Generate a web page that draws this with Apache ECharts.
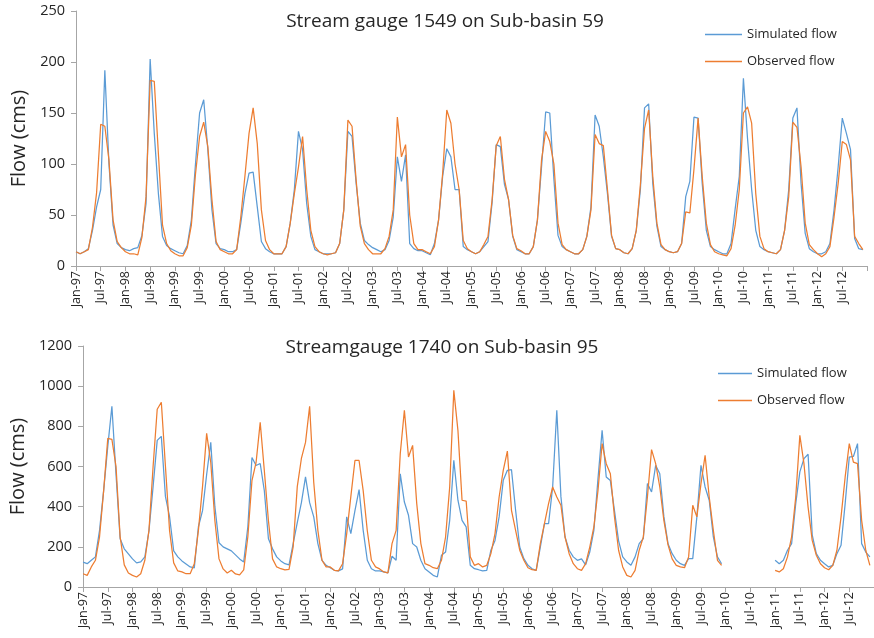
<!DOCTYPE html>
<html>
<head>
<meta charset="utf-8">
<script src="https://cdn.jsdelivr.net/npm/echarts@6/dist/echarts.min.js"></script>
<style>
  html, body { margin: 0; padding: 0; background: #ffffff; }
  #chart { width: 874px; height: 638px; }
</style>
</head>
<body>
<div id="chart"></div>
<script>
// ---------- categories ----------
const monthNames = ['Jan','Feb','Mar','Apr','May','Jun','Jul','Aug','Sep','Oct','Nov','Dec'];
const yearLabels = ['97','98','99','00','01','02','03','04','05','06','07','08','09','10','11','12','13'];
const categories = [];
yearLabels.forEach(y => monthNames.forEach(m => categories.push(m + '-' + y)));
categories.length = 193; // Jan-97 ... Jan-13 (axis end)

// ---------- series: Stream gauge 1549 (monthly, Jan-97 .. Dec-12) ----------
const sim1549 = [
  14,12,14,17,35,58,75,192,100,40,22,18,
  16,15,17,18,30,61,203,130,71,29,20,17,
  15,13,12,20,45,100,150,163,114,55,22,17,
  16,14,14,16,42,71,91,92,58,24,17,14,
  12,12,12,19,42,75,132,114,61,29,16,14,
  12,12,12,13,22,55,132,127,81,42,25,21,
  18,16,14,16,25,48,107,83,109,22,17,15,
  15,13,11,22,45,88,115,107,75,75,19,16,
  14,12,14,19,24,62,119,117,80,65,29,16,
  14,12,12,19,45,97,151,150,85,30,19,16,
  14,12,12,16,29,58,148,137,107,71,29,17,
  16,13,12,17,35,75,155,159,81,39,19,16,
  14,13,14,22,68,83,146,145,81,35,19,16,
  14,12,12,22,56,88,184,125,75,35,19,16,
  14,13,12,16,35,75,145,155,81,32,17,14,
  12,12,14,22,55,97,145,130,114,27,17,16
];
const obs1549 = [
  14,12,14,16,38,72,139,137,104,45,24,18,
  14,12,12,11,28,68,182,181,110,40,22,15,
  12,10,10,18,40,90,127,141,117,65,24,16,
  14,12,12,16,48,88,130,155,120,55,25,16,
  12,12,12,19,42,71,97,127,75,35,19,14,
  12,11,12,13,22,55,143,137,84,39,22,16,
  12,12,12,17,29,55,146,107,119,50,22,16,
  16,14,12,19,45,91,153,140,100,75,25,17,
  14,12,14,21,29,65,118,127,85,65,30,17,
  15,12,12,19,45,104,132,122,100,42,21,16,
  14,12,12,16,29,55,129,120,118,75,30,17,
  16,13,12,17,35,80,135,153,88,42,21,16,
  14,13,14,22,53,52,95,145,88,42,21,14,
  12,11,10,17,40,75,150,156,140,71,29,17,
  14,13,12,16,35,68,141,136,97,42,21,16,
  12,9,12,19,48,81,122,119,104,29,22,16
];

// ---------- series: Streamgauge 1740 (monthly, Jan-97 .. Dec-12, gap in 2010) ----------
const gap2010 = [null,null,null,null,null,null,null,null,null,null,null,null];
const sim1740 = [
  124,116,133,150,282,481,700,900,560,240,190,165,
  140,120,125,150,280,500,730,750,450,350,180,150,
  130,115,100,95,300,380,560,720,400,220,200,190,
  180,160,140,125,300,645,605,615,480,240,190,150,
  130,116,110,216,320,420,548,420,349,216,133,108,
  96,83,80,90,349,266,380,485,282,133,91,80,
  80,75,70,153,133,564,423,357,216,199,133,91,
  75,58,50,158,174,332,631,432,332,299,108,91,
  86,80,83,183,232,349,531,581,584,382,199,141,
  108,91,83,199,315,315,500,880,450,249,183,150,
  133,140,110,174,282,540,780,548,530,380,230,150,
  125,108,150,216,241,515,473,606,564,349,216,166,
  133,116,108,141,141,349,606,498,432,249,150,116,
  ...gap2010,
  133,116,133,183,216,415,573,639,661,260,166,133,
  116,100,108,166,208,415,647,650,714,216,174,150
];
const obs1740 = [
  66,58,100,133,250,480,740,735,600,250,110,70,
  58,50,66,133,282,600,885,920,600,280,120,80,
  75,66,66,116,282,500,765,620,330,140,90,70,
  83,65,60,85,250,530,620,820,580,330,140,100,
  91,85,88,200,500,640,720,900,520,282,133,100,
  100,83,80,116,266,450,630,630,480,280,133,100,
  90,75,70,216,282,664,880,647,705,415,216,116,
  108,96,91,133,249,498,979,780,432,428,150,108,
  116,100,108,166,266,448,581,677,382,282,183,133,
  96,86,83,216,315,415,498,448,407,249,166,116,
  91,83,116,199,299,481,714,614,564,349,183,100,
  58,50,83,183,249,448,684,614,498,330,210,140,
  108,100,96,150,407,349,515,656,448,282,133,108,
  ...gap2010,
  83,75,91,150,249,448,755,614,398,232,158,116,
  96,86,108,183,349,548,714,622,614,332,183,108
];

const titles = ['Stream gauge 1549 on Sub-basin 59', 'Streamgauge 1740 on Sub-basin 95'];
const seriesNames = ['Simulated flow', 'Observed flow'];
const yAxisName = 'Flow (cms)';
const yMax = [250, 1200];
const yStep = [50, 200];

// ---------- styles ----------
const FONT = 'Open Sans';
const TXT = '#262626';
const AXIS = '#A6A6A6';
const BLUE = '#5B9BD5';
const ORANGE = '#ED7D31';

const chart = echarts.init(document.getElementById('chart'), null, { renderer: 'canvas' });

function xAxisFor(i) {
  return {
    type: 'category', gridIndex: i, data: categories, boundaryGap: false,
    axisLine: { show: true, lineStyle: { color: AXIS, width: 1 } },
    axisTick: { show: true, length: 5, interval: (idx) => idx % 6 === 0, lineStyle: { color: AXIS } },
    axisLabel: { interval: (idx) => idx % 6 === 0 && idx < 192, rotate: 90, fontSize: 12.5,
                 color: TXT, fontFamily: FONT, margin: 5 },
    splitLine: { show: false }
  };
}
function yAxisFor(i) {
  return {
    type: 'value', gridIndex: i, min: 0, max: yMax[i], interval: yStep[i],
    name: yAxisName, nameLocation: 'middle', nameGap: 47,
    nameTextStyle: { fontSize: 20, color: TXT, fontFamily: FONT },
    axisLine: { show: true, lineStyle: { color: AXIS } },
    axisTick: { show: true, length: 5, lineStyle: { color: AXIS } },
    axisLabel: { fontSize: 14.5, color: TXT, fontFamily: FONT, margin: 11,
                 formatter: (v) => String(v) },
    splitLine: { show: false }
  };
}
function lineSeries(name, i, data, color) {
  return {
    name: name, type: 'line', xAxisIndex: i, yAxisIndex: i, data: data,
    symbol: 'none', connectNulls: false, silent: true,
    lineStyle: { width: 1.25, color: color }, itemStyle: { color: color }
  };
}

const option = {
  animation: false,
  backgroundColor: '#ffffff',
  textStyle: { fontFamily: FONT },
  title: [
    { text: titles[0], left: 440, top: 7, textAlign: 'center',
      textStyle: { fontSize: 19, fontWeight: 'normal', color: TXT, fontFamily: FONT } },
    { text: titles[1], left: 437, top: 333, textAlign: 'center',
      textStyle: { fontSize: 19, fontWeight: 'normal', color: TXT, fontFamily: FONT } }
  ],
  legend: [
    { data: seriesNames, orient: 'vertical', left: 700, top: 23, icon: 'rect',
      itemWidth: 37, itemHeight: 1.5, itemGap: 14,
      textStyle: { fontSize: 13, color: TXT, fontFamily: FONT } },
    { data: seriesNames, orient: 'vertical', left: 713, top: 362, icon: 'rect',
      itemWidth: 34, itemHeight: 1.5, itemGap: 14,
      textStyle: { fontSize: 13, color: TXT, fontFamily: FONT } }
  ],
  grid: [
    { left: 76, right: 7, top: 11, height: 255, containLabel: false },
    { left: 76, right: -2, top: 346, height: 241, containLabel: false }
  ],
  xAxis: [xAxisFor(0), xAxisFor(1)],
  yAxis: [yAxisFor(0), yAxisFor(1)],
  series: [
    lineSeries(seriesNames[0], 0, sim1549, BLUE),
    lineSeries(seriesNames[1], 0, obs1549, ORANGE),
    lineSeries(seriesNames[0], 1, sim1740, BLUE),
    lineSeries(seriesNames[1], 1, obs1740, ORANGE)
  ]
};
chart.setOption(option);
</script>
</body>
</html>
